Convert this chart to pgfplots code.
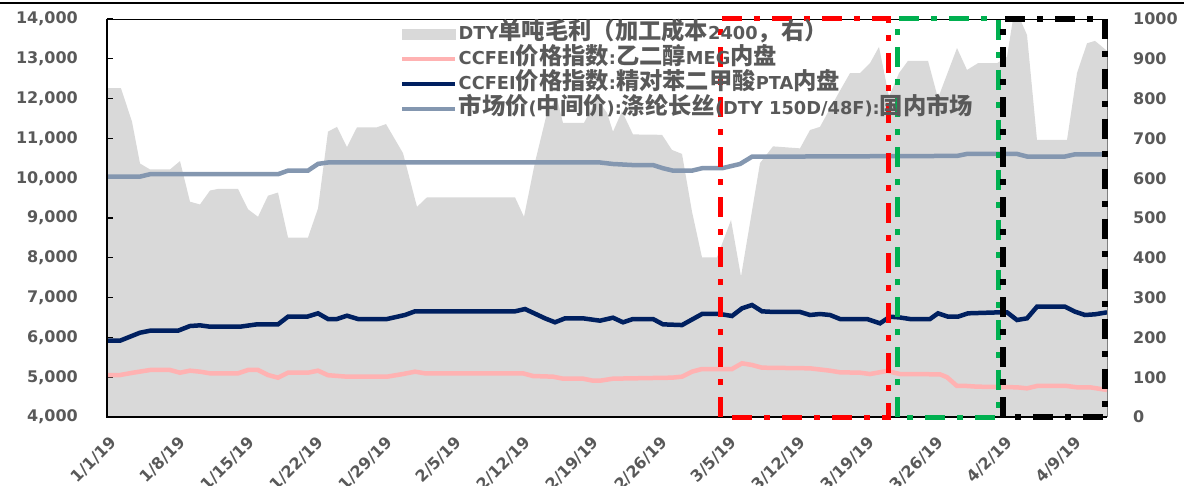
\documentclass[border=0pt]{standalone}
\usepackage{fontspec}
\setmainfont{DejaVu Sans}
\newfontfamily\cjk{Noto Sans CJK SC}
\usepackage{pgfplots}
\pgfplotsset{compat=1.18}
\definecolor{areagray}{HTML}{D9D9D9}
\definecolor{megpink}{HTML}{FFB2B2}
\definecolor{ptanavy}{HTML}{002060}
\definecolor{dtyblue}{HTML}{8497B0}
\definecolor{txtgray}{HTML}{595959}
\definecolor{boxgreen}{HTML}{00B050}
\newcommand{\C}[1]{{\cjk\fontsize{23.3}{23.3}\selectfont #1}}
\begin{document}
\begin{tikzpicture}
\useasboundingbox (-107pt,-68pt) rectangle (1077pt,417pt);
\draw[line width=1.5pt] (-107pt,414pt) -- (1077pt,414pt);
\pgfplotsset{
  base/.style={at={(0pt,0pt)}, anchor=south west, width=1000pt, height=398pt,
    scale only axis, xmin=0, xmax=100, scaled ticks=false,
    /pgf/number format/assume math mode=true,
    ticklabel style={font=\bfseries\fontsize{16}{16}\selectfont, text=txtgray},
  }
}
% right axis: area
\begin{axis}[base, ymin=0, ymax=1000,
  axis x line=none, axis y line*=right, axis line style={draw=none},
  ytick={0,100,...,1000}, major tick length=0pt,
  yticklabel style={anchor=west, inner sep=0pt, xshift=26pt},
  /pgf/number format/1000 sep={}]
\addplot[fill=areagray, draw=none] coordinates {
(0,826)(1.4,826)(2.5,742)(3.3,637)(4.3,622)(6.3,622)(7.3,643)(8.3,541)(9.3,534)(10.3,569)(11.1,573)(13.1,573)(14.1,522)(15.1,503)(16.1,556)(17.1,564)(18.1,451)(20.1,451)(21.1,524)(22.1,717)(23.0,729)(24.0,678)(25.0,728)(27.0,728)(27.9,736)(29.6,663)(31.0,528)(32.0,552)(40.8,552)(41.7,503)(42.8,640)(44.0,764)(45.0,800)(45.6,739)(47.7,739)(49.0,800)(50.0,764)(50.6,717)(51.5,768)(52.6,710)(55.5,709)(56.5,671)(57.5,661)(58.5,516)(59.5,401)(61.0,401)(62.4,495)(63.4,353)(65.3,638)(66.6,680)(69.3,675)(70.3,721)(71.3,729)(72.3,775)(73.3,820)(74.3,864)(75.3,864)(76.3,889)(77.2,930)(78.2,805)(79.2,864)(80.1,895)(82.1,895)(83.1,801)(85.0,927)(86.0,872)(87.1,889)(89.0,889)(90.0,905)(90.6,1000)(91.3,1000)(92.0,960)(93.0,696)(96.0,696)(97.0,864)(98.0,939)(98.8,945)(100,920)
} \closedcycle;
\end{axis}
% left axis: lines
\begin{axis}[base, ymin=4000, ymax=14000, clip=false,
  axis line style={draw=none},
  ytick={4000,5000,...,14000}, ytick pos=left, tick align=inside,
  major tick length=6pt, ytick style={black, line width=1.2pt},
  xtick={0,6.89,13.78,20.67,27.56,34.45,41.34,48.23,55.12,62.01,68.9,75.79,82.68,89.57,96.46},
  xticklabels={1/1/19,1/8/19,1/15/19,1/22/19,1/29/19,2/5/19,2/12/19,2/19/19,2/26/19,3/5/19,3/12/19,3/19/19,3/26/19,4/2/19,4/9/19},
  xtick style={draw=none},
  xticklabel style={xshift=7pt, yshift=-23pt, rotate=45, anchor=east, inner sep=0pt},
  yticklabel style={anchor=east, inner sep=0pt, xshift=-29pt},
  /pgf/number format/1000 sep={,},
  legend style={at={(0.293,0.99)}, anchor=north west, draw=none, fill=none,
    font=\bfseries\fontsize{17.8}{17.8}\selectfont, text=txtgray, row sep=3pt,
    inner sep=0pt, cells={anchor=west},
    nodes={inner sep=0pt, text height=16pt, text depth=6pt}},
  legend cell align=left,
  legend image code/.code={\draw[#1] (0pt,0pt) -- (53pt,0pt);},
  ]
\addlegendimage{legend image code/.code={\fill[areagray] (0pt,-5pt) rectangle (53pt,5pt);}}
\addlegendentry{\hspace{1pt}DTY\C{单吨毛利（加工成本}2400\C{，右）}}
\addplot[megpink, line width=4.5pt] coordinates {
(0,5055)(1.3,5055)(2.6,5113)(4.3,5181)(6.3,5181)(7.3,5113)(8.3,5164)(9.3,5139)(10.3,5097)(13.1,5097)(14.1,5181)(15.1,5181)(16.1,5055)(17.1,4988)(18.1,5113)(20.1,5113)(21.1,5164)(22.1,5050)(24,5013)(28,5013)(29.6,5080)(30.8,5139)(31.8,5097)(41.6,5097)(42.6,5030)(44.6,5013)(45.6,4963)(47.6,4963)(48.6,4912)(49.3,4912)(50.6,4963)(56.5,4988)(57.5,5013)(58.5,5139)(59.5,5206)(62.5,5206)(63.5,5349)(64.5,5307)(65.5,5239)(70.3,5223)(72.3,5164)(73.3,5123)(75.3,5113)(76.3,5080)(78,5156)(79.3,5080)(83.3,5072)(84,5000)(85,4779)(86,4779)(87,4762)(91,4746)(92,4720)(93,4779)(96,4779)(97,4746)(98.3,4746)(100,4679)
};
\addlegendentry{\hspace{1pt}CCFEI\C{价格指数}:\C{乙二醇}MEG\C{内盘}}
\addplot[ptanavy, line width=4.5pt] coordinates {
(0,5917)(1.3,5917)(3.3,6118)(4.3,6168)(7.1,6168)(8.3,6286)(9.3,6303)(10.3,6269)(13.3,6269)(15,6328)(17.1,6328)(18.1,6520)(20,6520)(21.1,6605)(22.1,6462)(23,6462)(24,6545)(25.1,6462)(28,6462)(29.8,6563)(30.8,6655)(40.8,6655)(41.8,6713)(43.8,6479)(44.8,6379)(45.8,6479)(47.6,6479)(49.3,6420)(50.6,6495)(51.6,6379)(52.6,6462)(54.6,6462)(55.6,6328)(57.5,6310)(59.5,6588)(61.3,6588)(62.5,6538)(63.5,6730)(64.5,6814)(65.5,6655)(66.6,6640)(69.3,6640)(70.3,6563)(71.3,6588)(72.3,6563)(73.3,6462)(76,6462)(77.3,6354)(78.3,6520)(79.3,6500)(80.3,6462)(82.3,6462)(83.1,6605)(84.1,6520)(85.1,6520)(86.1,6605)(89.3,6630)(90,6630)(91,6437)(92,6479)(93,6772)(95.8,6772)(96.8,6647)(97.8,6563)(98.8,6580)(100,6630)
};
\addlegendentry{\hspace{1pt}CCFEI\C{价格指数}:\C{精对苯二甲酸}PTA\C{内盘}}
\addplot[dtyblue, line width=4.5pt] coordinates {
(0,10040)(3.3,10040)(4.3,10100)(17.1,10100)(18.1,10190)(20.1,10190)(21.1,10360)(22.1,10395)(49.3,10395)(50.6,10357)(52.6,10330)(54.6,10330)(55.6,10250)(56.6,10190)(58.5,10190)(59.5,10250)(61.5,10250)(63.3,10357)(64.5,10540)(85,10560)(86,10610)(91,10610)(92,10545)(95.8,10545)(96.8,10600)(100,10600)
};
\addlegendentry{\hspace{1pt}\C{市场价}(\C{中间价}):\C{涤纶长丝}(DTY 150D/48F):\C{国内市场}}
% frame
\draw[black, line width=2pt] (axis description cs:0,1) -- (axis description cs:0,0) -- (axis description cs:1,0);
\draw[black, line width=0.8pt] (axis description cs:0,1) -- (axis description cs:1,1);
\draw[gray, line width=0.8pt] (axis description cs:1,1) -- (axis description cs:1,0);
% highlight boxes
\draw[red, line width=5pt, dash pattern=on 20pt off 12pt on 6pt off 12pt] (axis cs:61.3,4000) rectangle (axis cs:78.1,14000);
\draw[boxgreen, line width=5pt, dash pattern=on 20pt off 12pt on 6pt off 12pt] (axis cs:79.0,4000) rectangle (axis cs:89.1,14000);
\draw[black, line width=5.5pt, dash pattern=on 20pt off 12pt on 6pt off 12pt] (axis cs:89.6,4000) rectangle (axis cs:99.8,14000);
\end{axis}
\end{tikzpicture}
\end{document}
